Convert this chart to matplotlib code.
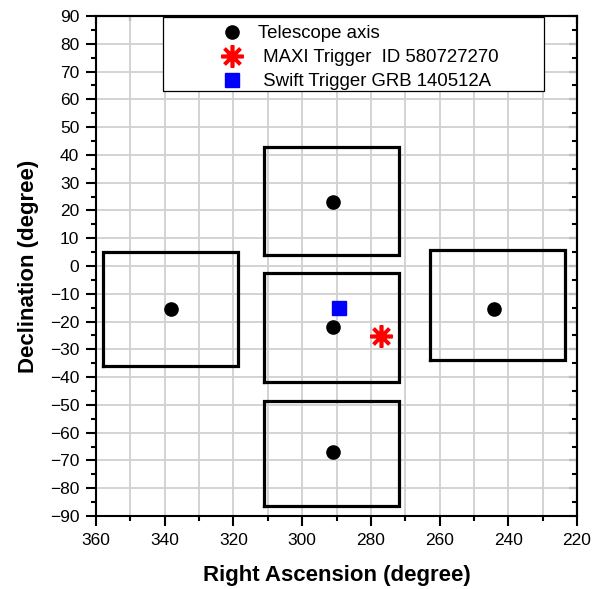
import matplotlib
matplotlib.use("Agg")
import matplotlib.pyplot as plt
from matplotlib.ticker import MultipleLocator
from matplotlib.legend_handler import HandlerLine2D
from matplotlib.patches import Rectangle

plt.rcParams['font.family'] = ['Liberation Sans', 'DejaVu Sans']

# Telescope pointing axes (RA, Dec) in degrees
axis_ra = [291, 291, 291, 338.2, 244.2]
axis_dec = [23, -22, -67, -15.5, -15.5]

# Field-of-view boxes: RA east edge, RA west edge, Dec lower, Dec upper
box_ra_hi = [311.1, 311.1, 311.1, 358.0, 262.8]
box_ra_lo = [271.8, 271.8, 271.8, 318.7, 223.5]
box_dec_lo = [4.0, -41.7, -86.4, -36.0, -33.8]
box_dec_hi = [42.8, -2.5, -48.6, 5.0, 5.8]

# Trigger positions
maxi_ra, maxi_dec = [277.1], [-25.2]
swift_ra, swift_dec = [289.37], [-15.1]

fig = plt.figure(figsize=(6.10, 5.89), dpi=100)
ax = fig.add_axes([0.1574, 0.1239, 0.7885, 0.8489])

for x0, x1, y0, y1 in zip(box_ra_hi, box_ra_lo, box_dec_lo, box_dec_hi):
    ax.plot([x0, x1, x1, x0, x0], [y0, y0, y1, y1, y0], color='black', lw=2.3,
            solid_joinstyle='miter', zorder=3)

ax.plot(axis_ra, axis_dec, 'o', color='black', ms=9.5, ls='none', zorder=4,
        label='Telescope axis')
ax.plot(maxi_ra, maxi_dec, ls='none', marker=(8, 2, 0), color='red', ms=16,
        mew=2.6, zorder=5, label=' MAXI Trigger  ID 580727270')
ax.plot(swift_ra, swift_dec, 's', color='blue', ms=9.7, ls='none', zorder=5,
        label=' Swift Trigger GRB 140512A')

ax.set_xlim(360, 220)
ax.set_ylim(-90, 90)
ax.xaxis.set_major_locator(MultipleLocator(20))
ax.xaxis.set_minor_locator(MultipleLocator(10))
ax.yaxis.set_major_locator(MultipleLocator(10))
ax.yaxis.set_minor_locator(MultipleLocator(5))

ax.grid(which='minor', axis='x', color='#d0d0d0', lw=1.3, zorder=0)
ax.grid(which='major', axis='both', color='#d0d0d0', lw=1.3, zorder=0)
ax.set_axisbelow(True)

ax.tick_params(which='both', direction='out', labelsize=12.5, width=1.5,
               top=False, right=False)
ax.tick_params(which='major', length=7, pad=5)
ax.tick_params(which='minor', length=3.5)

# Inward ticks on the top and right spines
sec_x = ax.secondary_xaxis('top')
sec_x.xaxis.set_major_locator(MultipleLocator(20))
sec_x.xaxis.set_minor_locator(MultipleLocator(10))
sec_x.tick_params(which='both', direction='in', labeltop=False, width=1.5)
sec_x.tick_params(which='major', length=6)
sec_x.tick_params(which='minor', length=3.5)
sec_y = ax.secondary_yaxis('right')
sec_y.yaxis.set_major_locator(MultipleLocator(10))
sec_y.yaxis.set_minor_locator(MultipleLocator(5))
sec_y.tick_params(which='both', direction='in', labelright=False, width=1.5)
sec_y.tick_params(which='major', length=6)
sec_y.tick_params(which='minor', length=3.5)
for s in (sec_x, sec_y):
    for sp in s.spines.values():
        sp.set_linewidth(1.5)

for sp in ax.spines.values():
    sp.set_linewidth(1.5)

ax.set_xlabel('Right Ascension (degree)', fontsize=16, fontweight='bold',
              labelpad=12.5)
ax.set_ylabel('Declination (degree)', fontsize=16, fontweight='bold',
              labelpad=8)

# Legend box drawn as its own white panel, entries laid on top of it
ax.add_patch(Rectangle((0.1393, 0.850), 0.7921, 0.148, transform=ax.transAxes,
                       facecolor='white', edgecolor='black', lw=0.9,
                       zorder=6))

fs = 13.4
hl = 3.4
handler = HandlerLine2D(numpoints=1, xpad=hl)
leg = ax.legend(loc='upper left', bbox_to_anchor=(0.151, 0.982), fontsize=fs,
                frameon=False, borderpad=0.0, labelspacing=0.38,
                handletextpad=1.4, handlelength=hl, borderaxespad=0.0,
                handler_map={plt.Line2D: handler})
leg.set_zorder(7)

fig.savefig('out.png', dpi=100)
